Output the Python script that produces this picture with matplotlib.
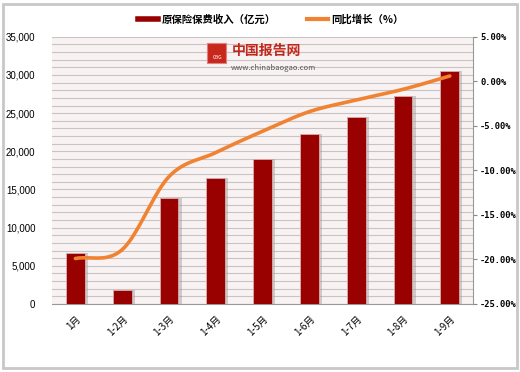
import numpy as np
import matplotlib.pyplot as plt
from matplotlib.patches import Rectangle
from matplotlib.lines import Line2D

plt.rcParams['font.family'] = ['Noto Sans CJK SC', 'DejaVu Sans']

months = ['1月', '1-2月', '1-3月', '1-4月', '1-5月', '1-6月', '1-7月', '1-8月', '1-9月']
premium = [6700, 1800, 13900, 16500, 19000, 22300, 24500, 27300, 30500]
growth = [-19.9, -18.9, -10.7, -8.0, -5.6, -3.4, -2.1, -0.9, 0.6]

bar_color = '#990000'
line_color = '#F08232'


def smooth(xs, ys, n=20):
    # catmull-rom curve through the points, like excel's smoothed line
    xs = np.asarray(xs, float)
    ys = np.asarray(ys, float)
    px = np.concatenate([[2 * xs[0] - xs[1]], xs, [2 * xs[-1] - xs[-2]]])
    py = np.concatenate([[2 * ys[0] - ys[1]], ys, [2 * ys[-1] - ys[-2]]])
    t = np.linspace(0, 1, n)
    ox, oy = [], []
    for i in range(1, len(px) - 2):
        for p, out in ((px, ox), (py, oy)):
            p0, p1, p2, p3 = p[i - 1], p[i], p[i + 1], p[i + 2]
            out.extend(0.5 * (2 * p1 + (p2 - p0) * t
                              + (2 * p0 - 5 * p1 + 4 * p2 - p3) * t ** 2
                              + (3 * p1 - p0 - 3 * p2 + p3) * t ** 3))
    return ox, oy


fig = plt.figure(figsize=(5.2, 3.72), dpi=100)
fig.patch.set_facecolor('white')
fig.add_artist(Rectangle((0.006, 0.01), 0.988, 0.98, transform=fig.transFigure,
                         fill=False, edgecolor='#C8C8C8', lw=2))

ax = fig.add_axes([0.1, 0.183, 0.81, 0.718])
ax.set_facecolor('#F9F2F2')
x = np.arange(len(months))

# shadow then bars
ax.bar(x + 0.04, premium, width=0.46, color='#9A9A9A', alpha=0.45, zorder=2)
ax.bar(x, premium, width=0.4, color=bar_color, edgecolor='#D9B0B0', lw=0.6, zorder=3)

ax.set_xlim(-0.5, len(months) - 0.5)
ax.set_ylim(0, 35000)
ax.set_yticks(np.arange(0, 35001, 5000))
ax.set_yticklabels([f'{v:,}' for v in range(0, 35001, 5000)],
                   fontsize=7, family='Liberation Sans')
ax.set_yticks(np.arange(0, 35001, 1000), minor=True)
ax.grid(axis='y', which='both', color='#C8C4C4', lw=0.8, zorder=0)
ax.set_axisbelow(True)
ax.tick_params(axis='y', which='both', length=0, pad=12)
ax.set_xticks(x)
ax.set_xticklabels(months, rotation=45, fontsize=7, ha='right', rotation_mode='anchor')
ax.tick_params(axis='x', length=0, pad=7)
for s in ['top', 'left', 'right']:
    ax.spines[s].set_visible(False)
ax.spines['bottom'].set_color('#999999')

ax2 = ax.twinx()
sx, sy = smooth(x, growth)
ax2.plot(sx, sy, color=line_color, lw=2.6, zorder=5, solid_capstyle='round')
ax2.set_ylim(-25, 5)
ax2.set_yticks(np.arange(-25, 5.1, 5))
ax2.set_yticklabels([f'{v:.2f}%' for v in np.arange(-25, 5.1, 5)],
                    fontsize=6.3, family='DejaVu Sans Mono', fontweight='bold')
ax2.tick_params(axis='y', length=3, color='#888888', pad=2)
for s in ['top', 'left', 'bottom']:
    ax2.spines[s].set_visible(False)
ax2.spines['right'].set_color('#999999')

# watermark
fig.add_artist(Rectangle((0.398, 0.83), 0.037, 0.054, transform=fig.transFigure,
                         facecolor='#C8281C', edgecolor='#E08080', lw=0.8))
fig.text(0.409, 0.845, 'CBG', color='white', fontsize=3.5, va='center')
fig.text(0.445, 0.863, '中国报告网', color='#C0281C', fontsize=10, fontweight='bold', va='center')
fig.text(0.443, 0.818, 'www.chinabaogao.com', color='#555555', fontsize=5.5, va='center')

handles = [Line2D([], [], color=bar_color, lw=4), Line2D([], [], color=line_color, lw=3)]
fig.legend(handles, ['原保险保费收入（亿元）', '同比增长（%）'], loc='center',
           bbox_to_anchor=(0.52, 0.947), ncol=2, frameon=False,
           prop={'size': 7.5, 'weight': 'bold'},
           handlelength=2.0, columnspacing=3, handletextpad=0.3)

fig.savefig('out.png', dpi=100)
